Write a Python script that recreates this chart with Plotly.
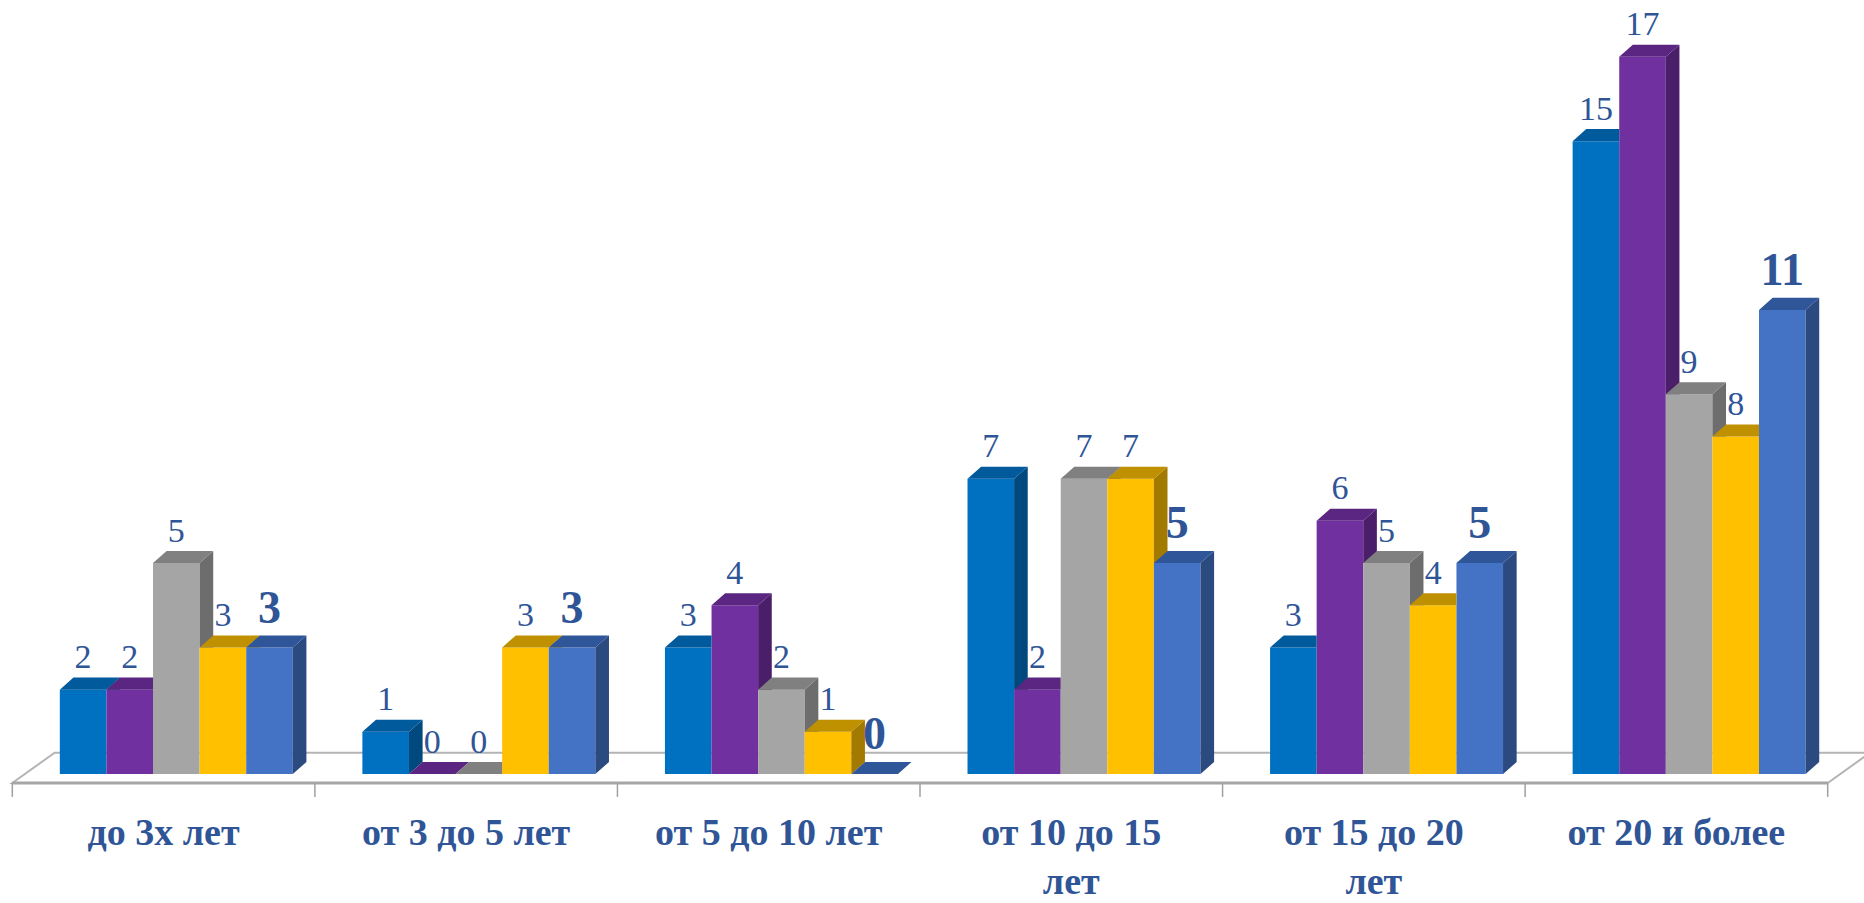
import plotly.graph_objects as go

# experience groups (x categories)
categories = ["до 3х лет", "от 3 до 5 лет", "от 5 до 10 лет",
              "от 10 до 15<br>лет", "от 15 до 20<br>лет", "от 20 и более"]

# five series, left to right inside each group
series_1 = [2, 1, 3, 7, 3, 15]
series_2 = [2, 0, 4, 2, 6, 17]
series_3 = [5, 0, 2, 7, 5, 9]
series_4 = [3, 3, 1, 7, 4, 8]
series_5 = [3, 3, 0, 5, 5, 11]

series = [series_1, series_2, series_3, series_4, series_5]
front_colors = ["#0070C0", "#7030A0", "#A5A5A5", "#FFC000", "#4472C4"]
top_colors = ["#005A9C", "#5A2681", "#808080", "#BF9000", "#30569A"]
side_colors = ["#00497F", "#4A1E68", "#6D6D6D", "#A37A00", "#2B4A80"]
label_color = "#2F5597"

# fake 3d geometry (in axis units)
BAR_W = 0.154
SHIFT = 0.042
DX = 0.045
DY = 0.285


def clip(poly, f):
    # keep the part of a polygon where f(point) >= 0
    out = []
    n = len(poly)
    for k in range(n):
        p1, p2 = poly[k], poly[(k + 1) % n]
        f1, f2 = f(p1), f(p2)
        if f1 >= 0:
            out.append(p1)
        if (f1 >= 0) != (f2 >= 0):
            t = f1 / (f1 - f2)
            out.append((p1[0] + t * (p2[0] - p1[0]), p1[1] + t * (p2[1] - p1[1])))
    return out


def to_xy(polys):
    xs, ys = [], []
    for p in polys:
        if len(p) < 3:
            continue
        xs += [q[0] for q in p] + [p[0][0], None]
        ys += [q[1] for q in p] + [p[0][1], None]
    return xs, ys


def bar_centers(j):
    return [i + SHIFT + (j - (len(series) - 1) / 2) * BAR_W for i in range(len(categories))]


fig = go.Figure()

n_ser = len(series)
for j, vals in enumerate(series):
    centers = bar_centers(j)

    # front faces
    fig.add_trace(go.Bar(x=centers, y=vals, width=BAR_W,
                         marker=dict(color=front_colors[j], line=dict(width=0)),
                         showlegend=False, hoverinfo="skip"))

    tops, sides = [], []
    for i, v in enumerate(vals):
        xl = centers[i] - BAR_W / 2
        xr = centers[i] + BAR_W / 2
        top = [(xl, v), (xr, v), (xr + DX, v + DY), (xl + DX, v + DY)]
        side = [(xr, 0), (xr + DX, DY), (xr + DX, v + DY), (xr, v)]
        if j < n_ser - 1:
            c = series[j + 1][i]  # next bar hides what is below its top
            tops.append(clip(top, lambda p, xr=xr: xr - p[0]))
            tops.append(clip(top, lambda p, c=c: p[1] - c))
            sides.append(clip(side, lambda p, c=c: p[1] - c))
        else:
            tops.append(top)
            sides.append(side)

    for polys, col in ((sides, side_colors[j]), (tops, top_colors[j])):
        xs, ys = to_xy(polys)
        fig.add_trace(go.Scatter(x=xs, y=ys, mode="lines", fill="toself",
                                 fillcolor=col, line=dict(width=0, color=col),
                                 showlegend=False, hoverinfo="skip"))

# data labels
for j, vals in enumerate(series):
    last = j == n_ser - 1
    fig.add_trace(go.Scatter(
        x=bar_centers(j), y=[v + (0.86 if last else 0.71) for v in vals],
        mode="text", text=[str(v) for v in vals], textposition="middle center",
        textfont=dict(family="Liberation Serif", size=46 if last else 34,
                      color=label_color, weight="bold" if last else "normal"),
        cliponaxis=False, showlegend=False, hoverinfo="skip"))

# floor of the 3d chart
yf, yb, fdx = -0.213, 0.505, 0.14
x0, x1 = -0.5, len(categories) - 0.5
shapes = [
    dict(type="path", layer="below", xref="x", yref="y",
         path=f"M {x0},{yf} L {x1},{yf} L {x1 + fdx},{yb} L {x0 + fdx},{yb} Z",
         fillcolor="white", line=dict(color="#B4B4B4", width=2)),
    dict(type="line", layer="below", xref="x", yref="y",
         x0=x0, x1=x1, y0=yf, y1=yf, line=dict(color="#A6A6A6", width=3)),
]
for k in range(len(categories) + 1):
    shapes.append(dict(type="line", layer="below", xref="x", yref="y",
                       x0=x0 + k, x1=x0 + k, y0=yf, y1=yf - 0.33,
                       line=dict(color="#A0A0A0", width=1.5)))

fig.update_layout(
    width=1864, height=903,
    margin=dict(l=0, r=0, t=0, b=103),
    barmode="overlay",
    plot_bgcolor="white", paper_bgcolor="white",
    shapes=shapes,
    xaxis=dict(range=[-0.5407, 5.62], tickvals=list(range(len(categories))),
               ticktext=categories, showgrid=False, zeroline=False, showline=False,
               ticks="", ticklabelstandoff=6, automargin=False,
               tickfont=dict(family="Liberation Serif", size=38, color=label_color,
                             weight="bold")),
    yaxis=dict(range=[-0.616, 18.345], visible=False, showgrid=False,
               zeroline=False, automargin=False),
)

# page body has an 8px default margin, drop it so the figure fills the window
fig.write_html("out.html", config={"displayModeBar": False},
               post_script="document.body.style.margin='0';")
